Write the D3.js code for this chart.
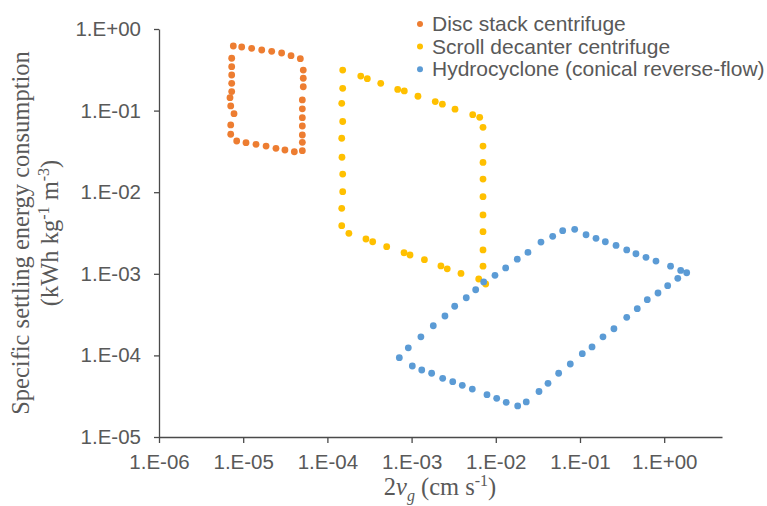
<!DOCTYPE html>
<html>
<head>
<meta charset="utf-8">
<script src="https://cdn.jsdelivr.net/npm/d3@7"></script>
<style>
  body { margin: 0; background: #fff; }
  svg { display: block; }
</style>
</head>
<body>
<div id="chart"></div>
<script>
// series values (x = 2vg in cm/s, y = kWh/kg/m3)
var discX = [7.63e-6, 9.6e-6, 1.26e-5, 1.66e-5, 2.18e-5, 2.86e-5, 3.70e-5, 4.77e-5,
  5.17e-5, 5.17e-5, 5.17e-5, 5.04e-5, 5.04e-5, 5.04e-5, 5.04e-5, 5.04e-5, 5.04e-5, 5.04e-5,
  4.05e-5, 3.13e-5, 2.45e-5, 1.87e-5, 1.42e-5, 1.08e-5, 8.37e-6,
  7.11e-6, 7.11e-6, 7.78e-6, 7.11e-6, 6.97e-6, 7.3e-6, 7.3e-6, 7.3e-6, 7.3e-6, 7.3e-6];
var discY = [0.619, 0.602, 0.580, 0.553, 0.533, 0.508, 0.471, 0.433,
  0.314, 0.249, 0.196, 0.135, 0.105, 0.0819, 0.0648, 0.0502, 0.0409, 0.0323,
  0.0313, 0.0329, 0.0345, 0.0368, 0.0386, 0.0404, 0.0424,
  0.0513, 0.0667, 0.0916, 0.114, 0.144, 0.171, 0.216, 0.273, 0.345, 0.438];

var scrollX = [1.52e-4, 2.49e-4, 2.98e-4, 4.30e-4, 6.84e-4, 8.19e-4, 1.19e-3, 1.91e-3, 2.32e-3, 3.28e-3, 5.32e-3, 6.44e-3,
  7.05e-3, 7.05e-3, 7.05e-3, 7.05e-3, 7.05e-3, 7.05e-3, 7.05e-3, 7.05e-3, 7.05e-3,
  7.59e-3, 6.27e-3, 3.86e-3, 2.65e-3, 2.23e-3, 1.42e-3, 9.58e-4, 8.13e-4, 5.06e-4, 3.45e-4, 2.87e-4, 1.80e-4, 1.48e-4,
  1.48e-4, 1.52e-4, 1.52e-4, 1.49e-4, 1.48e-4, 1.52e-4, 1.48e-4, 1.52e-4];
var scrollY = [0.314, 0.265, 0.246, 0.216, 0.182, 0.174, 0.150, 0.129, 0.120, 0.104, 0.0891, 0.0828,
  0.0624, 0.0368, 0.0232, 0.0145, 0.00881, 0.00526, 0.00328, 0.00196, 0.00124,
  0.000750, 0.000863, 0.00101, 0.00115, 0.00125, 0.00149, 0.00170, 0.00181, 0.00215, 0.00247, 0.00267, 0.00313, 0.00389,
  0.00635, 0.01014, 0.0167, 0.0268, 0.0458, 0.0735, 0.1229, 0.1876];

var hydroX = [7.15e-4, 9.14e-4, 1.29e-3, 1.81e-3, 2.49e-3, 3.25e-3, 4.46e-3, 5.77e-3, 7.18e-3, 9.78e-3, 1.31e-2, 1.80e-2, 2.41e-2,
  3.44e-2, 4.74e-2, 6.23e-2, 8.65e-2,
  0.118, 0.155, 0.200, 0.268, 0.359, 0.462, 0.608, 0.799, 1.19, 1.57, 1.85,
  1.45, 1.10, 0.844, 0.630, 0.479, 0.359, 0.253, 0.1875, 0.139, 0.1065, 0.0767, 0.0558, 0.0417, 0.0326,
  0.0230, 0.0182, 0.0133, 0.01025, 7.86e-3, 5.26e-3, 4.00e-3, 3.08e-3, 2.34e-3, 1.73e-3, 1.32e-3, 1.02e-3];
var hydroY = [9.37e-5, 1.24e-4, 1.69e-4, 2.31e-4, 3.04e-4, 4.00e-4, 5.09e-4, 6.38e-4, 7.94e-4, 9.59e-4, 1.18e-3, 1.51e-3, 1.83e-3,
  2.45e-3, 2.88e-3, 3.38e-3, 3.51e-3,
  3.01e-3, 2.72e-3, 2.47e-3, 2.23e-3, 1.96e-3, 1.76e-3, 1.59e-3, 1.43e-3, 1.24e-3, 1.10e-3, 1.03e-3,
  8.81e-4, 7.15e-4, 5.82e-4, 4.82e-4, 3.74e-4, 2.93e-4, 2.12e-4, 1.69e-4, 1.27e-4, 1.05e-4, 7.85e-5, 6.04e-5, 4.55e-5, 3.61e-5,
  2.69e-5, 2.40e-5, 2.66e-5, 2.98e-5, 3.30e-5, 3.87e-5, 4.30e-5, 4.76e-5, 5.24e-5, 6.04e-5, 6.62e-5, 7.41e-5];

var seriesNames = ["Disc stack centrifuge", "Scroll decanter centrifuge", "Hydrocyclone (conical reverse-flow)"];
var seriesColors = ["#ED7D31", "#FFC000", "#5B9BD5"];

var xTicks = [1e-6, 1e-5, 1e-4, 1e-3, 1e-2, 1e-1, 1];
var xTickLabels = ["1.E-06", "1.E-05", "1.E-04", "1.E-03", "1.E-02", "1.E-01", "1.E+00"];
var yTicks = [1e-5, 1e-4, 1e-3, 1e-2, 1e-1, 1];
var yTickLabels = ["1.E-05", "1.E-04", "1.E-03", "1.E-02", "1.E-01", "1.E+00"];

var svgWidth = 767;
var svgHeight = 506;

var margin = { top: 29, left: 159, right: 45, bottom: 69 };
var width = svgWidth - margin.left - margin.right;
var height = svgHeight - margin.top - margin.bottom;

var textGray = "#595959";
var sansFont = "'Liberation Sans', Arial, sans-serif";
var serifFont = "'Liberation Serif', 'Times New Roman', serif";

var svg = d3.select("#chart")
  .append("svg")
  .attr("width", svgWidth)
  .attr("height", svgHeight);

var chartGroup = svg.append("g")
  .attr("transform", `translate(${margin.left}, ${margin.top})`);

// the x axis runs a bit past 1.E+00 with no extra tick
var xScale = d3.scaleLog()
  .domain([1e-6, 4.86])
  .range([0, width]);

var yScale = d3.scaleLog()
  .domain([1e-5, 1])
  .range([height, 0]);

var xAxis = d3.axisBottom(xScale)
  .tickValues(xTicks)
  .tickFormat((d, i) => xTickLabels[i])
  .tickSize(6)
  .tickSizeOuter(0)
  .tickPadding(11);

var yAxis = d3.axisLeft(yScale)
  .tickValues(yTicks)
  .tickFormat((d, i) => yTickLabels[i])
  .tickSize(5)
  .tickSizeOuter(0)
  .tickPadding(13);

var xAxisGroup = chartGroup.append("g")
  .attr("transform", `translate(0, ${height})`)
  .call(xAxis);

var yAxisGroup = chartGroup.append("g")
  .call(yAxis);

[xAxisGroup, yAxisGroup].forEach(function(g) {
  g.select(".domain").attr("stroke", "#4a4a4a").attr("stroke-width", 1.3);
  g.selectAll(".tick line").attr("stroke", "#4a4a4a").attr("stroke-width", 1.3);
  g.selectAll(".tick text")
    .attr("fill", textGray)
    .style("font-family", sansFont)
    .style("font-size", "20.5px");
});

// points, one series after another so blue sits on top
var allSeries = [
  d3.zip(discX, discY),
  d3.zip(scrollX, scrollY),
  d3.zip(hydroX, hydroY)
];

allSeries.forEach(function(points, i) {
  chartGroup.append("g")
    .selectAll("circle")
    .data(points)
    .enter()
    .append("circle")
    .attr("cx", d => xScale(d[0]))
    .attr("cy", d => yScale(d[1]))
    .attr("r", 3.4)
    .attr("fill", seriesColors[i]);
});

// legend
var legend = svg.append("g")
  .attr("transform", "translate(420, 24)");

var legendRows = legend.selectAll("g")
  .data(seriesNames)
  .enter()
  .append("g")
  .attr("transform", (d, i) => `translate(0, ${i * 22.6})`);

legendRows.append("circle")
  .attr("r", 3)
  .attr("fill", (d, i) => seriesColors[i]);

legendRows.append("text")
  .attr("x", 12)
  .attr("y", 7)
  .attr("fill", textGray)
  .style("font-family", sansFont)
  .style("font-size", "21px")
  .text(d => d);

// y axis title, two lines
var yMid = margin.top + height / 2;

svg.append("text")
  .attr("transform", `translate(29, ${yMid}) rotate(-90)`)
  .attr("text-anchor", "middle")
  .attr("fill", textGray)
  .style("font-family", serifFont)
  .style("font-size", "24.5px")
  .text("Specific settling energy consumption");

var yTitle2 = svg.append("text")
  .attr("transform", `translate(58, ${yMid}) rotate(-90)`)
  .attr("text-anchor", "middle")
  .attr("fill", textGray)
  .style("font-family", serifFont)
  .style("font-size", "24.5px");

yTitle2.append("tspan").text("(kWh kg");
yTitle2.append("tspan").attr("dy", -9).style("font-size", "16px").text("-1");
yTitle2.append("tspan").attr("dy", 9).text(" m");
yTitle2.append("tspan").attr("dy", -9).style("font-size", "16px").text("-3");
yTitle2.append("tspan").attr("dy", 9).text(")");

// x axis title
var xTitle = svg.append("text")
  .attr("x", 440)
  .attr("y", 495)
  .attr("text-anchor", "middle")
  .attr("fill", textGray)
  .style("font-family", serifFont)
  .style("font-size", "24.5px");

xTitle.append("tspan").text("2");
xTitle.append("tspan").style("font-style", "italic").text("v");
xTitle.append("tspan").attr("dy", 6).style("font-style", "italic").style("font-size", "16px").text("g");
xTitle.append("tspan").attr("dy", -6).text(" (cm s");
xTitle.append("tspan").attr("dy", -9).style("font-size", "16px").text("-1");
xTitle.append("tspan").attr("dy", 9).text(")");
</script>
</body>
</html>
